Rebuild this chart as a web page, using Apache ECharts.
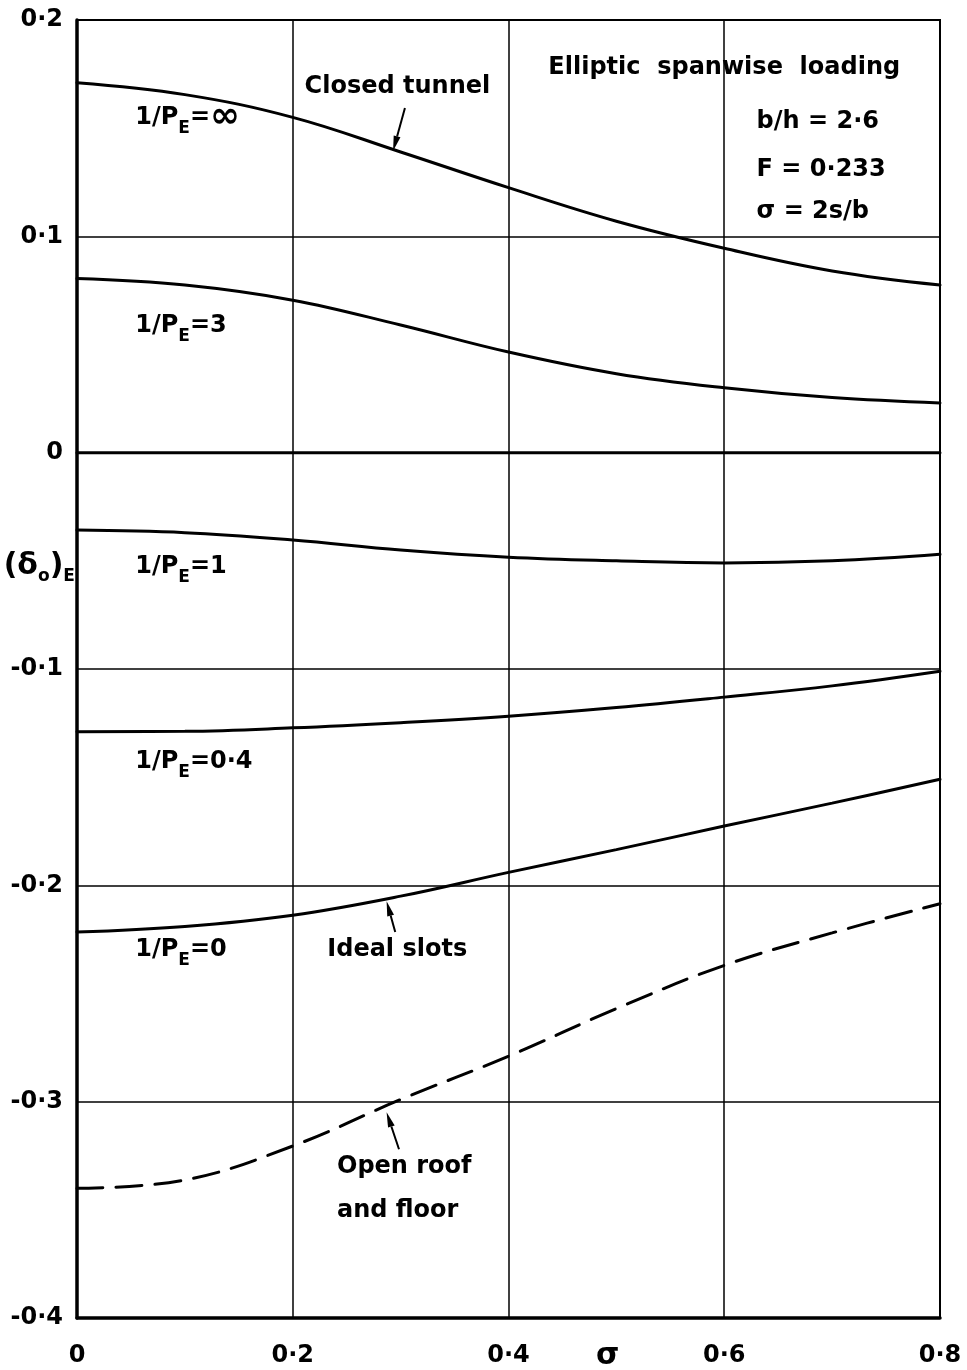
<!DOCTYPE html>
<html>
<head>
<meta charset="utf-8">
<script src="https://cdn.jsdelivr.net/npm/echarts@6/dist/echarts.min.js"></script>
<style>
  html, body { margin: 0; padding: 0; background: #fff; }
  #chart { width: 967px; height: 1370px; }
</style>
</head>
<body>
<div id="chart"></div>
<script>
// sigma = 2s/b
const sigma = [0, 0.1, 0.2, 0.3, 0.4, 0.5, 0.6, 0.7, 0.8];

// (delta_0)_E for each 1/P_E, elliptic spanwise loading, b/h = 2.6, F = 0.233
const closedTunnel = [0.171, 0.1655, 0.155, 0.139, 0.1225, 0.107, 0.0945, 0.084, 0.0775]; // 1/P_E = inf
const pe3 = [0.0805, 0.0775, 0.0705, 0.059, 0.0465, 0.0365, 0.030, 0.0255, 0.023];
const zeroCurve = [0, 0, 0, 0, 0, 0, 0, 0, 0];
const pe1 = [-0.0358, -0.037, -0.0404, -0.045, -0.0483, -0.0500, -0.0510, -0.0500, -0.0470];
const pe04 = [-0.129, -0.1288, -0.1272, -0.1248, -0.1218, -0.1178, -0.1130, -0.1078, -0.1010];
const idealSlots = [-0.2216, -0.2190, -0.2138, -0.2050, -0.1940, -0.1835, -0.1726, -0.1620, -0.1510]; // 1/P_E = 0
const openRoof = [-0.3400, -0.3362, -0.3205, -0.2990, -0.2790, -0.2570, -0.2370, -0.2220, -0.2085];

const xTicks = [0, 0.2, 0.4, 0.6, 0.8];
const yTicks = [-0.4, -0.3, -0.2, -0.1, 0, 0.1, 0.2];

const FONT = '"DejaVu Sans", "Liberation Sans", sans-serif';
const fmt = v => (Math.abs(v) < 1e-9 ? '0' : String(+v.toFixed(1)).replace('.', '·'));

const chart = echarts.init(document.getElementById('chart'), null, { renderer: 'canvas' });

function curve(name, vals, dashed) {
  return {
    name,
    type: 'line',
    data: sigma.map((s, i) => [s, vals[i]]),
    smooth: 0.4,
    showSymbol: false,
    silent: true,
    animation: false,
    lineStyle: { color: '#000', width: 3, type: dashed ? [26, 13] : 'solid', cap: 'round' }
  };
}

chart.setOption({
  animation: false,
  backgroundColor: '#fff',
  grid: { left: 77, right: 27, top: 20, bottom: 52, show: true, borderColor: '#000', borderWidth: 2 },
  xAxis: {
    type: 'value', min: 0, max: 0.8, interval: 0.2,
    axisLine: { show: true, onZero: false, lineStyle: { color: '#000', width: 3.5 } },
    axisTick: { show: false },
    splitLine: { show: true, lineStyle: { color: '#000', width: 1.5 } },
    axisLabel: { color: '#000', fontFamily: FONT, fontWeight: 'bold', fontSize: 24, margin: 26, formatter: v => fmt(v) }
  },
  yAxis: {
    type: 'value', min: -0.4, max: 0.2, interval: 0.1,
    axisLine: { show: true, onZero: false, lineStyle: { color: '#000', width: 3.5 } },
    axisTick: { show: false },
    splitLine: { show: true, lineStyle: { color: '#000', width: 1.5 } },
    axisLabel: { color: '#000', fontFamily: FONT, fontWeight: 'bold', fontSize: 24, margin: 14, formatter: v => fmt(v) }
  },
  series: [
    curve('closed', closedTunnel, false),
    curve('pe3', pe3, false),
    curve('zero', zeroCurve, false),
    curve('pe1', pe1, false),
    curve('pe04', pe04, false),
    curve('ideal', idealSlots, false),
    curve('open', openRoof, true)
  ]
});

const base = { fontFamily: FONT, fontWeight: 'bold', color: '#000', lineHeight: 38 };
const rich = {
  a: Object.assign({ fontSize: 24, verticalAlign: 'middle' }, base),
  s: Object.assign({ fontSize: 17, verticalAlign: 'bottom' }, base),
  inf: Object.assign({ fontSize: 36, verticalAlign: 'middle' }, base),
  big: Object.assign({ fontSize: 30, verticalAlign: 'middle' }, base)
};

// text notes placed in data units
const notes = [
  { t: '{a|Closed tunnel}', at: [0.297, 0.169], align: 'center' },
  { t: '{a|1/P}{s|E}{a|=}{inf|∞}', at: [0.054, 0.1547], align: 'left' },
  { t: '{a|Elliptic  spanwise  loading}', at: [0.600, 0.178], align: 'center' },
  { t: '{a|b/h = 2·6}', at: [0.630, 0.153], align: 'left' },
  { t: '{a|F = 0·233}', at: [0.630, 0.1307], align: 'left' },
  { t: '{a|σ = 2s/b}', at: [0.630, 0.1112], align: 'left' },
  { t: '{a|1/P}{s|E}{a|=3}', at: [0.054, 0.0585], align: 'left' },
  { t: '{a|1/P}{s|E}{a|=1}', at: [0.054, -0.0529], align: 'left' },
  { t: '{a|1/P}{s|E}{a|=0·4}', at: [0.054, -0.143], align: 'left' },
  { t: '{a|1/P}{s|E}{a|=0}', at: [0.054, -0.230], align: 'left' },
  { t: '{a|Ideal slots}', at: [0.232, -0.230], align: 'left' },
  { t: '{a|Open roof}', at: [0.241, -0.330], align: 'left' },
  { t: '{a|and floor}', at: [0.241, -0.3506], align: 'left' },
  { t: '{big|(δ}{s|o}{big|)}{s|E}', at: [-0.068, -0.0525], align: 'left' },
  { t: '{big|σ}', at: [0.492, -0.4175], align: 'center' }
];

// leader arrows from a label to its curve, in data units
const arrows = [
  [[0.304, 0.1593], [0.293, 0.1395]],
  [[0.295, -0.2216], [0.287, -0.2073]],
  [[0.2985, -0.322], [0.287, -0.3049]]
];

const px = v => chart.convertToPixel({ gridIndex: 0 }, v);
const graphics = [];

notes.forEach(n => {
  const p = px(n.at);
  graphics.push({
    type: 'text', silent: true, x: p[0], y: p[1],
    style: { text: n.t, rich, fill: '#000', font: 'bold 24px ' + FONT, align: n.align, verticalAlign: 'middle' }
  });
});

arrows.forEach(a => {
  const p1 = px(a[0]), p2 = px(a[1]);
  const dx = p2[0] - p1[0], dy = p2[1] - p1[1];
  const len = Math.hypot(dx, dy), ux = dx / len, uy = dy / len;
  const headLen = 15, headHalf = 3.5;
  const bx = p2[0] - ux * headLen, by = p2[1] - uy * headLen;
  graphics.push({
    type: 'line', silent: true,
    shape: { x1: p1[0], y1: p1[1], x2: bx, y2: by },
    style: { stroke: '#000', lineWidth: 2 }
  });
  graphics.push({
    type: 'polygon', silent: true,
    shape: { points: [[p2[0], p2[1]], [bx - uy * headHalf, by + ux * headHalf], [bx + uy * headHalf, by - ux * headHalf]] },
    style: { fill: '#000' }
  });
});

chart.setOption({ graphic: graphics });
</script>
</body>
</html>
